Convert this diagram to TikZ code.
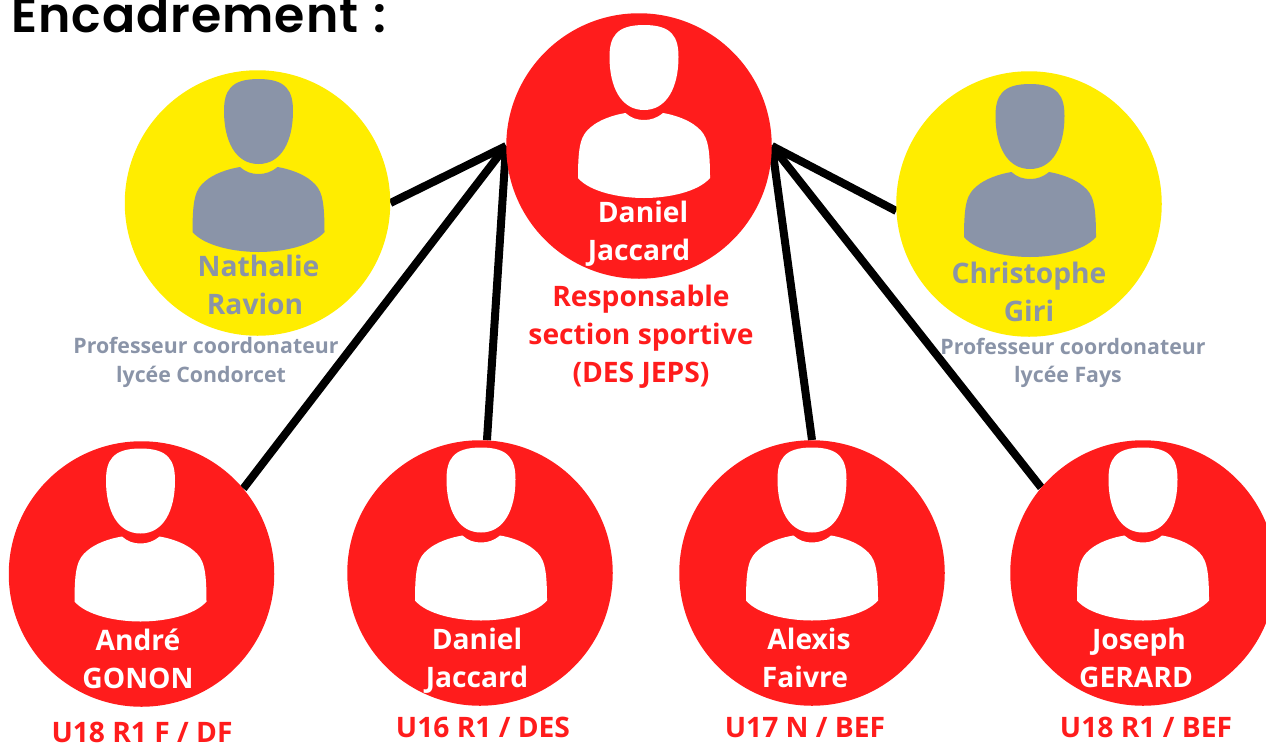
\documentclass[tikz,border=0pt]{standalone}
\usepackage{fontspec}
\setmainfont{Open Sans}
\newfontfamily\titlefont[BoldFont={Poppins SemiBold},LetterSpace=2,WordSpace=1.2]{Poppins}
\usetikzlibrary{backgrounds}
\definecolor{rd}{HTML}{FF1C1C}
\definecolor{yl}{HTML}{FFED00}
\definecolor{gy}{HTML}{8A94A8}
\tikzset{
  disc/.style={circle,inner sep=0pt,minimum size=265.5pt,fill=#1},
  link/.style={line width=8pt,black},
  who/.style={anchor=base,font=\fontsize{28.2}{28.2}\selectfont\bfseries,text=#1},
  role/.style={anchor=base,font=\fontsize{28.2}{28.2}\selectfont\bfseries,text=rd},
  rolegray/.style={anchor=base,font=\fontsize{21.3}{21.3}\selectfont\bfseries,text=gy},
  pics/person/.style={code={
    \fill[#1] (1,-124) .. controls (-27,-124) and (-33.5,-112) .. (-33.5,-92)
      .. controls (-33.5,-62) and (-22,-39) .. (1,-39)
      .. controls (24,-39) and (35.5,-62) .. (35.5,-92)
      .. controls (35.5,-112) and (29,-124) .. (1,-124) -- cycle;
    \fill[#1] (-65,29) .. controls (-65,-5) and (-62,-14) .. (-52,-22)
      .. controls (-44,-29) and (-30,-34) .. (-17.5,-36)
      .. controls (-12,-31) and (-6,-29) .. (1,-29)
      .. controls (8,-29) and (14,-31) .. (20,-36)
      .. controls (32,-34) and (46,-29) .. (54,-22)
      .. controls (64,-14) and (67,-5) .. (67,29)
      .. controls (55,43) and (25,49) .. (1,49)
      .. controls (-23,49) and (-53,43) .. (-65,29) -- cycle;
  }}
}
\begin{document}
\begin{tikzpicture}[x=1pt,y=-1pt]
\useasboundingbox (0,0) rectangle (1266,742);
\node[anchor=base west,inner sep=0pt,font=\titlefont\fontsize{49}{49}\selectfont\bfseries] (title) at (11,32) {Encadrement :};
\node[disc=rd] (chef) at (639,146) {};
\node[disc=yl] (nat) at (257.5,203) {};
\node[disc=yl] (chr) at (1029,204) {};
\node[disc=rd] (and) at (141.5,574) {};
\node[disc=rd] (dan) at (480,573) {};
\node[disc=rd] (ale) at (812,573) {};
\node[disc=rd] (jos) at (1143,573) {};
\begin{scope}[on background layer]
\draw[link] (chef.180) -- (nat.0);
\draw[link] (chef.180) -- (and.40);
\draw[link] (chef.180) -- (dan.87);
\draw[link] (chef.0) -- (chr.183);
\draw[link] (chef.0) -- (ale.90);
\draw[link] (chef.0) -- (jos.140);
\end{scope}
\pic[shift={(4,3)}] at (chef) {person=white};
\pic at (nat) {person=gy};
\pic[shift={(0,4)}] at (chr) {person=gy};
\pic[shift={(-2,-1.5)}] at (and) {person=white};
\pic[shift={(0,-1.5)}] at (dan) {person=white};
\pic[shift={(-1,-1.5)}] at (ale) {person=white};
\pic[shift={(-1,-1.5)}] at (jos) {person=white};
\node[who=white] (t1) at (643,222) {Daniel};
\node[who=white] (t2) at (639,260) {Jaccard};
\node[role] (t3) at (641,306) {Responsable};
\node[role] (t4) at (641,344) {section sportive};
\node[role] (t5) at (641,382) {(DES JEPS)};
\node[who=gy] (n1) at (258.5,276) {Nathalie};
\node[who=gy] (n2) at (255,314) {Ravion};
\node[rolegray] (n3) at (206,353) {Professeur coordonateur};
\node[rolegray] (n4) at (201,382) {lycée Condorcet};
\node[who=gy] (c1) at (1029,283) {Christophe};
\node[who=gy] (c2) at (1029,321) {Giri};
\node[rolegray] (c3) at (1073,354) {Professeur coordonateur};
\node[rolegray] (c4) at (1068,382) {lycée Fays};
\node[who=white] (a1) at (138,650) {André};
\node[who=white] (a2) at (138,688) {GONON};
\node[role] (a3) at (142,742) {U18 R1 F / DF};
\node[who=white] (d1) at (477,649) {Daniel};
\node[who=white] (d2) at (477,687) {Jaccard};
\node[role] (d3) at (483,737) {U16 R1 / DES};
\node[who=white] (e1) at (809,649) {Alexis};
\node[who=white] (e2) at (805,687) {Faivre};
\node[role] (e3) at (805,737) {U17 N / BEF};
\node[who=white] (j1) at (1139,649) {Joseph};
\node[who=white] (j2) at (1136,687) {GERARD};
\node[role] (j3) at (1146,737) {U18 R1 / BEF};
\end{tikzpicture}
\end{document}
